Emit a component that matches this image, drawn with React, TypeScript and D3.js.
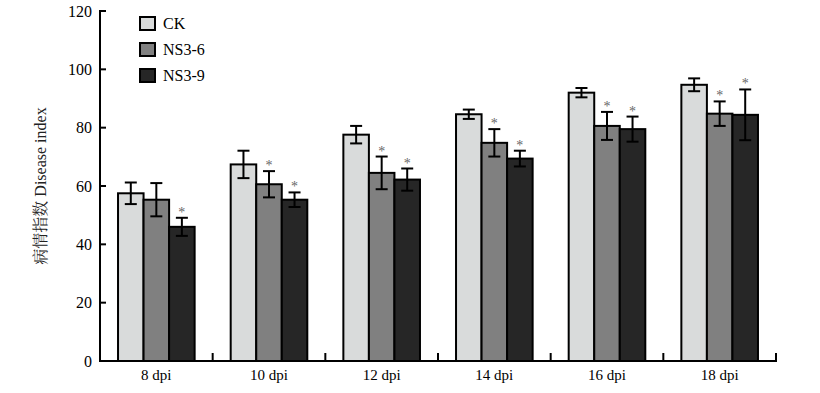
import React from 'react';
import * as d3 from 'd3';

// days post inoculation
const groups = ['8 dpi', '10 dpi', '12 dpi', '14 dpi', '16 dpi', '18 dpi'];
const series = ['CK', 'NS3-6', 'NS3-9'];
const colors = ['#d9dbdb', '#808080', '#262626'];

// mean disease index per series
const ckMean = [57.5, 67.4, 77.6, 84.6, 92.0, 94.7];
const ns36Mean = [55.3, 60.6, 64.5, 74.8, 80.6, 84.8];
const ns39Mean = [46.0, 55.3, 62.2, 69.4, 79.5, 84.4];

// standard deviation per series
const ckErr = [3.7, 4.7, 3.0, 1.6, 1.6, 2.2];
const ns36Err = [5.7, 4.5, 5.6, 4.7, 4.8, 4.2];
const ns39Err = [3.1, 2.5, 3.8, 2.7, 4.3, 8.7];

// significance marks
const ckSig = [false, false, false, false, false, false];
const ns36Sig = [false, true, true, true, true, true];
const ns39Sig = [true, true, true, true, true, true];

const yTicks = [0, 20, 40, 60, 80, 100, 120];

const means = [ckMean, ns36Mean, ns39Mean];
const errs = [ckErr, ns36Err, ns39Err];
const sigs = [ckSig, ns36Sig, ns39Sig];

const font = '"Liberation Serif", "Times New Roman", serif';
const cjkFont = '"Liberation Serif", "Noto Serif CJK SC", "Noto Sans CJK SC", serif';

export default function App() {
  const width = 820;
  const height = 393;
  const left = 100, right = 776, top = 11, bottom = 361;

  const x = d3.scaleBand<string>()
    .domain(groups)
    .range([left, right])
    .paddingInner(0.32)
    .paddingOuter(0.16);

  const xs = d3.scaleBand<string>()
    .domain(series)
    .range([0, x.bandwidth()])
    .padding(0);

  const y = d3.scaleLinear().domain([0, 120]).range([bottom, top]);

  const step = x.step();
  const boundaries = d3.range(groups.length + 1).map((i) => left + i * step);

  return (
    <svg width={width} height={height} style={{ position: 'absolute', left: 0, top: 0 }} fontFamily={font}>
      <rect width={width} height={height} fill="#fff" />

      {/* bars */}
      {groups.map((g, gi) => (
        <g key={g} transform={`translate(${x(g)},0)`}>
          {series.map((s, si) => {
            const v = means[si][gi];
            const e = errs[si][gi];
            const bx = xs(s)!;
            const cx = bx + xs.bandwidth() / 2;
            return (
              <g key={s}>
                <rect x={bx} y={y(v)} width={xs.bandwidth()} height={y(0) - y(v)}
                  fill={colors[si]} stroke="#000" strokeWidth={2} />
                <line x1={cx} x2={cx} y1={y(v + e)} y2={y(v - e)} stroke="#000" strokeWidth={2} />
                <line x1={cx - 6} x2={cx + 6} y1={y(v + e)} y2={y(v + e)} stroke="#000" strokeWidth={2} />
                <line x1={cx - 6} x2={cx + 6} y1={y(v - e)} y2={y(v - e)} stroke="#000" strokeWidth={2} />
                {sigs[si][gi] && (
                  <text x={cx} y={y(v + e) - 1} textAnchor="middle" fontSize={14} fill="#666">*</text>
                )}
              </g>
            );
          })}
        </g>
      ))}

      {/* y axis */}
      <line x1={left} x2={left} y1={top - 1} y2={bottom + 1} stroke="#000" strokeWidth={2} />
      {yTicks.map((t) => (
        <g key={t}>
          <line x1={left} x2={left + 6} y1={y(t)} y2={y(t)} stroke="#000" strokeWidth={2} />
          <text x={left - 8} y={y(t)} dy="0.35em" textAnchor="end" fontSize={16}>{t}</text>
        </g>
      ))}

      {/* x axis */}
      <line x1={left - 1} x2={right + 1} y1={bottom} y2={bottom} stroke="#000" strokeWidth={2} />
      {boundaries.slice(1).map((bx, i) => (
        <line key={i} x1={bx} x2={bx} y1={bottom} y2={bottom - 8} stroke="#000" strokeWidth={2} />
      ))}
      {groups.map((g) => (
        <text key={g} x={x(g)! + x.bandwidth() / 2} y={bottom + 19} textAnchor="middle" fontSize={15}>{g}</text>
      ))}

      {/* y label */}
      <text transform={`translate(46,${(top + bottom) / 2}) rotate(-90)`} textAnchor="middle"
        fontSize={16} fontFamily={cjkFont} fill="#222">病情指数 Disease index</text>

      {/* legend */}
      {series.map((s, i) => (
        <g key={s} transform={`translate(140,${17 + i * 26})`}>
          <rect width={15} height={13} fill={colors[i]} stroke="#000" strokeWidth={2} />
          <text x={23} y={6.5} dy="0.35em" fontSize={16}>{s}</text>
        </g>
      ))}
    </svg>
  );
}
